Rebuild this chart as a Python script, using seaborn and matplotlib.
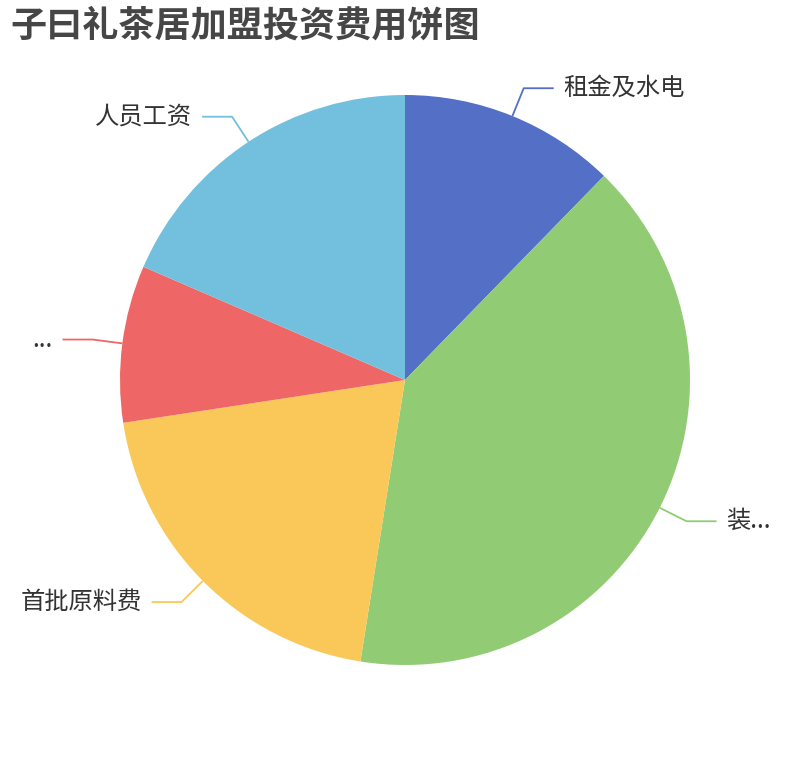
import numpy as np
import matplotlib
matplotlib.use("Agg")
import matplotlib.pyplot as plt
import seaborn as sns

# 数据
names = ["租金及水电", "装...", "首批原料费", "...", "人员工资"]
values = [12.3, 40.2, 20.1, 8.9, 18.5]
colors = ["#5470c6", "#91cc75", "#fac858", "#ee6666", "#73c0de"]
title = "子曰礼茶居加盟投资费用饼图"

sns.set_style("white")
plt.rcParams['font.family'] = ['Noto Sans CJK SC', 'DejaVu Sans']

W, H, R = 810, 760, 285  # 像素
fig = plt.figure(figsize=(W / 100, H / 100), dpi=100)
ax = fig.add_axes([0, 0, 1, 1])
cx, cy = 405, 380

wedges, _ = ax.pie(values, colors=colors, startangle=90, counterclock=False,
                   radius=1, wedgeprops=dict(linewidth=0, antialiased=True))

# pie会改坐标范围, 之后再设
ax.set_xlim(-cx / R, (W - cx) / R)
ax.set_ylim(-(H - cy) / R, cy / R)
ax.set_aspect("equal")
ax.axis("off")

# 引导线: 径向30px, 水平30px
l1, l2, gap = 30 / R, 30 / R, 10 / R
for w, name, c in zip(wedges, names, colors):
    ang = np.deg2rad((w.theta1 + w.theta2) / 2)
    x0, y0 = np.cos(ang), np.sin(ang)
    x1, y1 = (1 + l1) * x0, (1 + l1) * y0
    side = 1 if x0 >= 0 else -1
    x2 = x1 + side * l2
    ax.plot([x0, x1, x2], [y0, y1, y1], color=c, lw=1.3, solid_capstyle="butt")
    ax.text(x2 + side * gap, y1, name, ha="left" if side > 0 else "right",
            va="center", fontsize=17.5, color="#333333")

fig.text(10 / W, 1 - 26 / H, title, fontsize=26, fontweight="bold",
         color="#464646", ha="left", va="center")

fig.savefig("out.png", dpi=100)
